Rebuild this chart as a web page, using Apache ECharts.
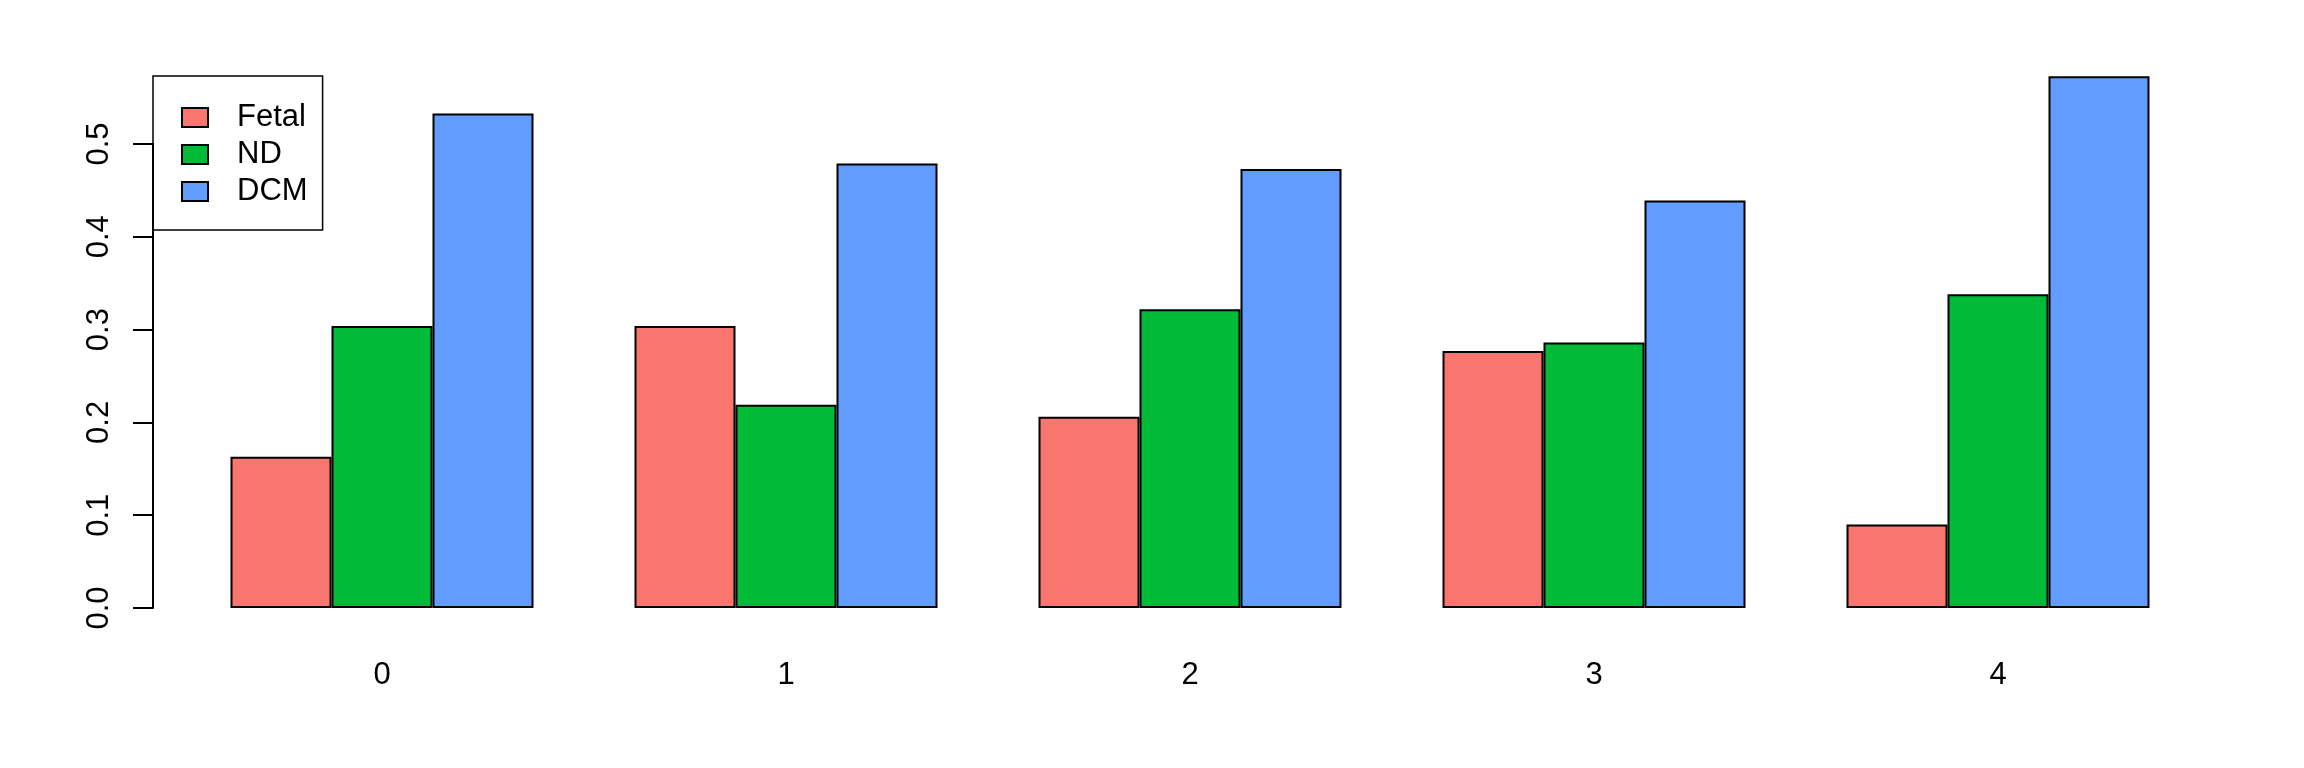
<!DOCTYPE html>
<html>
<head>
<meta charset="utf-8">
<script src="https://cdn.jsdelivr.net/npm/echarts@6/dist/echarts.min.js"></script>
<style>html,body{margin:0;padding:0;background:#fff}#c{width:2304px;height:768px}</style>
</head>
<body>
<div id="c"></div>
<script>
const categories = ['0', '1', '2', '3', '4'];
const fetal = [0.163, 0.304, 0.206, 0.277, 0.090];
const nd = [0.304, 0.219, 0.322, 0.286, 0.338];
const dcm = [0.533, 0.479, 0.473, 0.439, 0.573];
const yTicks = [0, 0.1, 0.2, 0.3, 0.4, 0.5];
const seriesNames = ['Fetal', 'ND', 'DCM'];
const colors = ['#F8766D', '#00BA38', '#619CFF'];

const FONT = 'Liberation Sans, Arial, sans-serif';
const chart = echarts.init(document.getElementById('c'), null, {renderer: 'canvas'});
const seriesData = [fetal, nd, dcm];
chart.setOption({
  animation: false,
  backgroundColor: '#ffffff',
  textStyle: {fontFamily: FONT},
  grid: [
    {left: 180, right: 104, top: 51.2, bottom: 160, containLabel: false},
    {left: 153, top: 144, height: 464, width: 10, containLabel: false}
  ],
  xAxis: [
    {type: 'category', gridIndex: 0, data: categories,
     axisLine: {show: false}, axisTick: {show: false},
     axisLabel: {fontSize: 31, color: '#000', margin: 52, fontFamily: FONT}},
    {type: 'value', gridIndex: 1, min: 0, max: 1, show: false}
  ],
  yAxis: [
    {type: 'value', gridIndex: 0, min: 0, max: 0.6, show: false, splitLine: {show: false}},
    {type: 'value', gridIndex: 1, min: yTicks[0], max: yTicks[yTicks.length - 1], interval: 0.1,
     position: 'left',
     axisLine: {show: true, lineStyle: {color: '#000', width: 2}},
     axisTick: {show: true, length: 20, lineStyle: {color: '#000', width: 2}},
     splitLine: {show: false},
     axisLabel: {rotate: 90, fontSize: 31, color: '#000', margin: 38, fontFamily: FONT,
       formatter: v => v.toFixed(1)}}
  ],
  legend: {
    orient: 'vertical', left: 153, top: 76,
    padding: [26, 15, 23, 28],
    itemWidth: 26, itemHeight: 19, itemGap: 6,
    borderColor: '#000', borderWidth: 1.5, borderRadius: 0,
    icon: 'rect',
    textStyle: {fontSize: 31, lineHeight: 31, color: '#000', fontFamily: FONT, padding: [0, 0, 0, 24]},
    data: seriesNames
  },
  series: seriesNames.map((name, i) => ({
    name: name, type: 'bar', xAxisIndex: 0, yAxisIndex: 0,
    data: seriesData[i],
    barGap: '0%', barCategoryGap: '25%',
    itemStyle: {color: colors[i], borderColor: '#000', borderWidth: 2}
  }))
});
</script>
</body>
</html>
